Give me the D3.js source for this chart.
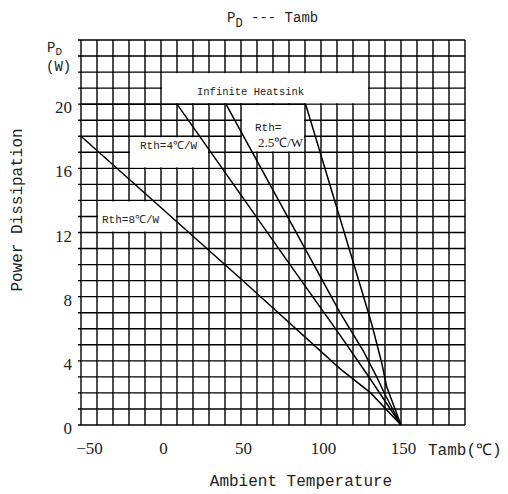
<!DOCTYPE html>
<html>
<head>
<meta charset="utf-8">
<script src="https://cdn.jsdelivr.net/npm/d3@7"></script>
<style>
  body { margin: 0; background: #fff; }
  svg { display: block; }
  .mono { font-family: "Liberation Mono", "DejaVu Sans Mono", monospace; fill: #222; }
  .serif { font-family: "Liberation Serif", serif; fill: #222; }
</style>
</head>
<body>
<div id="chart"></div>
<script>
// tick labels
let tempTicks = [-50, 0, 50, 100, 150];
let powerTicks = [0, 4, 8, 12, 16, 20];

// derating curves (temperature in C, power in W)
let infT = [-50, 90.4];
let infP = [20, 20];
let rth8T = [-50, 50, 112, 131, 150];
let rth8P = [18, 9.1, 3.5, 2.0, 0];
let rth4T = [10, 80.6, 111.9, 130.6, 150];
let rth4P = [20, 10, 5.6, 2.9, 0];
let midT = [40.6, 111.9, 126.5, 134.8, 140, 150];
let midP = [20, 7.0, 4.6, 3.0, 1.9, 0];
let rth25T = [90.4, 123.3, 131.7, 137.9, 141, 150];
let rth25P = [20, 9.1, 6.3, 3.9, 2.4, 0];

function drawChart() {
    let width = 508, height = 494;
    let svg = d3.select("#chart").append("svg")
        .attr("width", width)
        .attr("height", height);

    let x = d3.scaleLinear().domain([-50, 190]).range([81, 465]);
    let y = d3.scaleLinear().domain([0, 24]).range([425, 40]);

    // Grid: 10 C by 1 W cells
    let grid = svg.append("g").attr("stroke", "#000").attr("stroke-width", 1.4);
    grid.selectAll(".v")
        .data(d3.range(-50, 191, 10))
        .enter().append("line")
        .attr("x1", d => x(d)).attr("x2", d => x(d))
        .attr("y1", y(24)).attr("y2", y(0));
    grid.selectAll(".h")
        .data(d3.range(0, 25, 1))
        .enter().append("line")
        .attr("x1", x(-50) - 3).attr("x2", x(190))
        .attr("y1", d => y(d)).attr("y2", d => y(d));

    // White label boxes hide the grid inside them
    let boxes = [[0, 130, 20, 22], [-20, 30, 16, 18], [-40, 10, 12, 14], [50, 90, 17, 20]];
    svg.selectAll(".box")
        .data(boxes)
        .enter().append("rect")
        .attr("x", d => x(d[0]) + 1)
        .attr("y", d => y(d[3]) + 1)
        .attr("width", d => x(d[1]) - x(d[0]) - 2)
        .attr("height", d => y(d[2]) - y(d[3]) - 2)
        .attr("fill", "#fff");

    // Curves
    let line = d3.line().x(d => x(d[0])).y(d => y(d[1]));
    let curves = [[infT, infP], [rth8T, rth8P], [rth4T, rth4P], [midT, midP], [rth25T, rth25P]];
    svg.selectAll(".curve")
        .data(curves.map(c => d3.zip(c[0], c[1])))
        .enter().append("path")
        .attr("d", line)
        .attr("fill", "none")
        .attr("stroke", "#000")
        .attr("stroke-width", 1.5);

    // Axes
    let xAxis = svg.append("g")
        .attr("transform", `translate(0,${y(0) + 14})`)
        .call(d3.axisBottom(x).tickValues(tempTicks).tickSize(0).tickFormat(d => d < 0 ? "\u221250" : d));
    xAxis.select(".domain").remove();
    xAxis.selectAll("text").attr("class", "serif").style("font-size", "17px")
        .attr("dx", d => d < 0 ? 8 : 2);

    let yAxis = svg.append("g")
        .attr("transform", `translate(${x(-50)},0)`)
        .call(d3.axisLeft(y).tickValues(powerTicks).tickSize(0).tickPadding(9));
    yAxis.select(".domain").remove();
    yAxis.selectAll("text").attr("class", "serif").style("font-size", "17px")
        .attr("dy", "0.5em");

    // Titles
    let title = svg.append("text").attr("class", "mono")
        .attr("x", 227).attr("y", 22).style("font-size", "14px");
    title.append("tspan").text("P");
    title.append("tspan").attr("dy", 5).style("font-size", "12px").text("D");
    title.append("tspan").attr("dy", -5).text(" --- Tamb");

    let unit = svg.append("text").attr("class", "mono")
        .attr("x", 47).attr("y", 52).style("font-size", "14px");
    unit.append("tspan").text("P");
    unit.append("tspan").attr("dy", 3).style("font-size", "11px").text("D");
    svg.append("text").attr("class", "mono")
        .attr("x", 46).attr("y", 71).style("font-size", "14px").text("(W)");

    svg.append("text").attr("class", "mono")
        .attr("transform", `translate(22,210) rotate(-90)`)
        .attr("text-anchor", "middle")
        .style("font-size", "16px")
        .text("Power Dissipation");

    svg.append("text").attr("class", "mono")
        .attr("x", 301).attr("y", 486)
        .attr("text-anchor", "middle")
        .style("font-size", "16px")
        .text("Ambient Temperature");

    svg.append("text").attr("class", "mono")
        .attr("x", 428).attr("y", 455)
        .style("font-size", "16px")
        .text("Tamb(\u2103)");

    // Curve labels
    svg.append("text").attr("class", "mono")
        .attr("x", 197).attr("y", 95).style("font-size", "10.5px")
        .text("Infinite Heatsink");
    svg.append("text").attr("class", "mono")
        .attr("x", 140).attr("y", 149).style("font-size", "11px")
        .text("Rth=4\u2103/W");
    svg.append("text").attr("class", "mono")
        .attr("x", 102).attr("y", 223).style("font-size", "11px")
        .text("Rth=8\u2103/W");
    svg.append("text").attr("class", "mono")
        .attr("x", 255).attr("y", 131).style("font-size", "11px")
        .text("Rth=");
    svg.append("text").attr("class", "serif")
        .attr("x", 258).attr("y", 147).style("font-size", "13px")
        .text("2.5\u2103/W");
}

drawChart();
</script>
</body>
</html>
